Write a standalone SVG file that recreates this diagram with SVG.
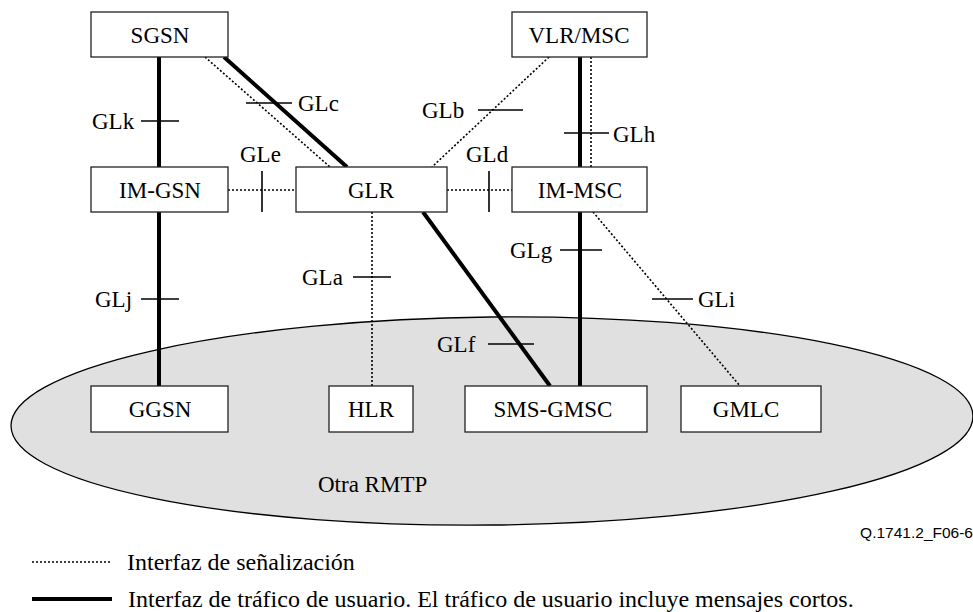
<svg xmlns="http://www.w3.org/2000/svg" width="973" height="612" viewBox="0 0 973 612">
<style>
text{font-family:"Liberation Serif","Times New Roman",serif;font-size:23px;fill:#000}
.c{text-anchor:middle}
.lg{font-size:24px}
.box{fill:#fff;stroke:#222;stroke-width:1.3}
.thick{stroke:#000;stroke-width:4;fill:none}
.dot{stroke:#000;stroke-width:1.6;stroke-dasharray:2 2;fill:none}
.tick{stroke:#000;stroke-width:1.6;fill:none}
</style>
<g id="otra-rmtp">
<ellipse cx="492" cy="421" rx="481" ry="104" transform="rotate(-0.6 492 421)" fill="#e0e0e0" stroke="#000" stroke-width="1.3"/>
<text x="318" y="492">Otra RMTP</text>
</g>
<g id="connectors">
<line class="thick" x1="159" y1="57" x2="159" y2="167"/>
<line class="tick" x1="141" y1="121" x2="179" y2="121"/>
<line class="thick" x1="159" y1="212" x2="159" y2="386"/>
<line class="tick" x1="141" y1="299" x2="179" y2="299"/>
<line class="thick" x1="224" y1="57" x2="347" y2="167"/>
<line class="dot" x1="205" y1="57" x2="330" y2="167"/>
<line class="tick" x1="246" y1="103" x2="292" y2="103"/>
<line class="dot" x1="228" y1="190" x2="296" y2="190"/>
<line class="tick" x1="262" y1="171" x2="262" y2="212"/>
<line class="dot" x1="447" y1="190" x2="512" y2="190"/>
<line class="tick" x1="489" y1="171" x2="489" y2="212"/>
<line class="dot" x1="549" y1="57" x2="432" y2="167"/>
<line class="tick" x1="478" y1="110" x2="523" y2="110"/>
<line class="thick" x1="580" y1="57" x2="580" y2="167"/>
<line class="dot" x1="591" y1="57" x2="591" y2="167"/>
<line class="tick" x1="564" y1="133" x2="609" y2="133"/>
<line class="dot" x1="372" y1="212" x2="372" y2="386"/>
<line class="tick" x1="353" y1="277" x2="391" y2="277"/>
<line class="thick" x1="423" y1="212" x2="550" y2="386"/>
<line class="tick" x1="488" y1="344" x2="534" y2="344"/>
<line class="thick" x1="580" y1="212" x2="580" y2="386"/>
<line class="tick" x1="560" y1="250" x2="602" y2="250"/>
<line class="dot" x1="593" y1="212" x2="740" y2="386"/>
<line class="tick" x1="652" y1="299" x2="693" y2="299"/>
<text x="92" y="129">GLk</text>
<text x="95" y="307">GLj</text>
<text x="298" y="111">GLc</text>
<text x="240" y="162">GLe</text>
<text x="466" y="162">GLd</text>
<text x="422" y="118">GLb</text>
<text x="613" y="142">GLh</text>
<text x="302" y="285">GLa</text>
<text x="510" y="258">GLg</text>
<text x="437" y="352">GLf</text>
<text x="698" y="307">GLi</text>
</g>
<g id="sgsn"><rect class="box" x="91" y="12" width="137" height="45"/><text class="c" x="160" y="43">SGSN</text></g>
<g id="vlr-msc"><rect class="box" x="512" y="12" width="135" height="45"/><text class="c" x="579" y="43">VLR/MSC</text></g>
<g id="im-gsn"><rect class="box" x="91" y="167" width="137" height="45"/><text class="c" x="160" y="198">IM-GSN</text></g>
<g id="glr"><rect class="box" x="296" y="167" width="151" height="45"/><text class="c" x="371" y="198">GLR</text></g>
<g id="im-msc"><rect class="box" x="512" y="167" width="135" height="45"/><text class="c" x="580" y="198">IM-MSC</text></g>
<g id="ggsn"><rect class="box" x="91" y="386" width="137" height="46"/><text class="c" x="160" y="417">GGSN</text></g>
<g id="hlr"><rect class="box" x="329" y="386" width="84" height="46"/><text class="c" x="371" y="417">HLR</text></g>
<g id="sms-gmsc"><rect class="box" x="465" y="386" width="182" height="46"/><text class="c" x="553" y="417">SMS-GMSC</text></g>
<g id="gmlc"><rect class="box" x="681" y="386" width="140" height="46"/><text class="c" x="746" y="417">GMLC</text></g>
<g id="legend">
<text x="973" y="538" style="font-family:'Liberation Sans',Arial,sans-serif;font-size:15.5px;text-anchor:end">Q.1741.2_F06-6</text>
<line class="dot" x1="32" y1="562" x2="112" y2="562"/>
<text class="lg" x="127" y="570">Interfaz de señalización</text>
<line class="thick" x1="32" y1="599" x2="112" y2="599"/>
<text class="lg" x="128" y="607">Interfaz de tráfico de usuario. El tráfico de usuario incluye mensajes cortos.</text>
</g>
</svg>
